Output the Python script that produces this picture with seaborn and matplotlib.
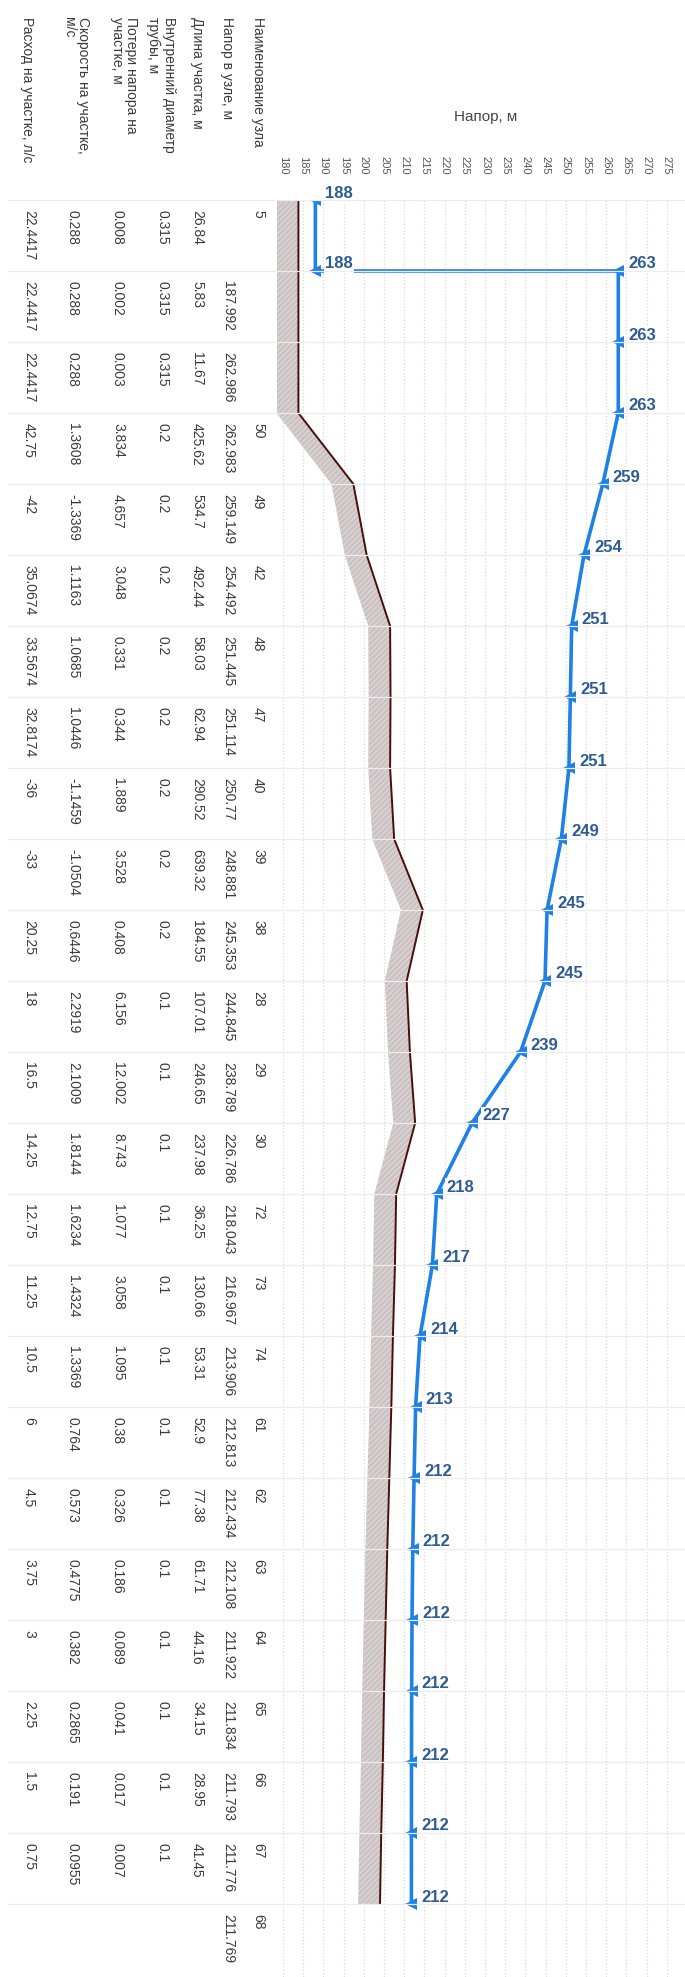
import numpy as np
import matplotlib
matplotlib.use("Agg")
import matplotlib.pyplot as plt
import seaborn as sns

# --- данные: узлы и участки трубопровода ---
node_names = ["5", "", "", "50", "49", "42", "48", "47", "40", "39", "38", "28", "29",
              "30", "72", "73", "74", "61", "62", "63", "64", "65", "66", "67", "68"]
node_heads = ["", "187.992", "262.986", "262.983", "259.149", "254.492", "251.445",
              "251.114", "250.77", "248.881", "245.353", "244.845", "238.789", "226.786",
              "218.043", "216.967", "213.906", "212.813", "212.434", "212.108", "211.922",
              "211.834", "211.793", "211.776", "211.769"]
seg_length = ["26.84", "5.83", "11.67", "425.62", "534.7", "492.44", "58.03", "62.94",
              "290.52", "639.32", "184.55", "107.01", "246.65", "237.98", "36.25", "130.66",
              "53.31", "52.9", "77.38", "61.71", "44.16", "34.15", "28.95", "41.45"]
seg_diam = ["0.315", "0.315", "0.315", "0.2", "0.2", "0.2", "0.2", "0.2", "0.2", "0.2",
            "0.2", "0.1", "0.1", "0.1", "0.1", "0.1", "0.1", "0.1", "0.1", "0.1", "0.1",
            "0.1", "0.1", "0.1"]
seg_loss = ["0.008", "0.002", "0.003", "3.834", "4.657", "3.048", "0.331", "0.344",
            "1.889", "3.528", "0.408", "6.156", "12.002", "8.743", "1.077", "3.058",
            "1.095", "0.38", "0.326", "0.186", "0.089", "0.041", "0.017", "0.007"]
seg_vel = ["0.288", "0.288", "0.288", "1.3608", "-1.3369", "1.1163", "1.0685", "1.0446",
           "-1.1459", "-1.0504", "0.6446", "2.2919", "2.1009", "1.8144", "1.6234", "1.4324",
           "1.3369", "0.764", "0.573", "0.4775", "0.382", "0.2865", "0.191", "0.0955"]
seg_flow = ["22.4417", "22.4417", "22.4417", "42.75", "-42", "35.0674", "33.5674",
            "32.8174", "-36", "-33", "20.25", "18", "16.5", "14.25", "12.75", "11.25",
            "10.5", "6", "4.5", "3.75", "3", "2.25", "1.5", "0.75"]

# пьезометрическая линия (узел 1 дважды: до и после насоса)
line_node = [0, 1, 1, 2, 3, 4, 5, 6, 7, 8, 9, 10, 11, 12, 13, 14, 15, 16, 17, 18, 19,
             20, 21, 22, 23, 24]
line_head = [188.0, 187.992, 262.988, 262.986, 262.983, 259.149, 254.492, 251.445,
             251.114, 250.77, 248.881, 245.353, 244.845, 238.789, 226.786, 218.043,
             216.967, 213.906, 212.813, 212.434, 212.108, 211.922, 211.834, 211.793,
             211.776, 211.769]

# отметки земли по узлам (оценка по рисунку)
ground = [183.8, 183.8, 183.8, 183.8, 197.4, 200.7, 206.5, 206.6, 206.5, 207.5, 214.6,
          210.6, 211.4, 212.7, 208.0, 207.7, 207.2, 206.8, 206.3, 205.8, 205.4, 205.0,
          204.7, 204.3, 204.0]

headers = ["Наименование узла", "Напор в узле, м", "Длина участка, м",
           "Внутренний диаметр\nтрубы, м", "Потери напора на\nучастке, м",
           "Скорость на участке,\nм/с", "Расход на участке, л/с"]

sns.set_theme(style="white")
plt.rcParams["font.family"] = ["Liberation Sans", "DejaVu Sans"]

W, H = 685, 1977
fig = plt.figure(figsize=(W / 100, H / 100), dpi=100)

# основная область графика
ax_left, ax_top = 277, 200
step = 71.0
ymax = (H - ax_top) / step
ax = fig.add_axes([ax_left / W, 0, 1 - ax_left / W, 1 - ax_top / H])
ax.set_xlim(178.5, 279.5)
ax.set_ylim(ymax, 0)

nodes = np.arange(len(ground))

# грунт: заштрихованная полоса и линия
ax.fill_betweenx(nodes, np.array(ground) - 5.4, ground, facecolor="#cac2c2",
                 edgecolor="#ddd6d6", hatch="//////", linewidth=0, zorder=2)
sns.lineplot(x=ground, y=nodes, sort=False, estimator=None, ax=ax,
             color="#4a0c0c", linewidth=1.4, zorder=3)

# пьезометрическая линия
sns.lineplot(x=line_head, y=line_node, sort=False, estimator=None, ax=ax,
             color="#1f80e6", linewidth=2.6, marker="<", markersize=9,
             markeredgewidth=0, zorder=4)

for h, n in zip(line_head, line_node):
    ax.annotate(f"{h:.0f}", xy=(h, n), xytext=(10, 7), textcoords="offset pixels",
                ha="left", va="center", fontsize=12, fontweight="bold",
                color="#2e5c92", zorder=6,
                bbox=dict(boxstyle="square,pad=0.08", fc="white", ec="none"))

ax.axhline(0, color="#a0a0a0", linewidth=1.2, zorder=1)
for sp in ax.spines.values():
    sp.set_visible(False)

ax.xaxis.tick_top()
ax.set_xticks(range(180, 280, 5))
ax.tick_params(axis="x", length=0, pad=18, labelsize=8, labelcolor="#555555",
               labelrotation=-90)
ax.set_yticks([])
ax.grid(axis="x", linestyle=":", color="#d8d8d8", linewidth=0.9)
ax.set_xlabel("")
ax.set_ylabel("")

# тонкие разделители по узлам на всю ширину
tab = fig.add_axes([0, 0, 1, 1 - ax_top / H], zorder=0)
tab.set_xlim(0, W)
tab.set_ylim(ymax, 0)
tab.axis("off")
for n in nodes:
    tab.axhline(n, xmin=8 / W, color="#ececec", linewidth=0.9)

fig.text(486 / W, 1 - 117 / H, "Напор, м", ha="center", va="center",
         fontsize=11, color="#444444")

# заголовки таблицы
head_x = [258, 227, 197, 161, 124, 76, 27]
for x, t in zip(head_x, headers):
    fig.text(x / W, 1 - 17 / H, t, rotation=-90, ha="center", va="top",
             multialignment="left", fontsize=10, color="#3a3a3a", linespacing=1.05)

# значения таблицы
col_x = [258, 228, 197, 163, 118, 73, 29]
cols = [node_names, node_heads, seg_length, seg_diam, seg_loss, seg_vel, seg_flow]
off = 10 / step
for x, col in zip(col_x, cols):
    for i, v in enumerate(col):
        if v:
            tab.text(x, i + off, v, rotation=-90, ha="center", va="top",
                     fontsize=10, color="#3a3a3a", clip_on=False)

fig.savefig("out.png", dpi=100)
